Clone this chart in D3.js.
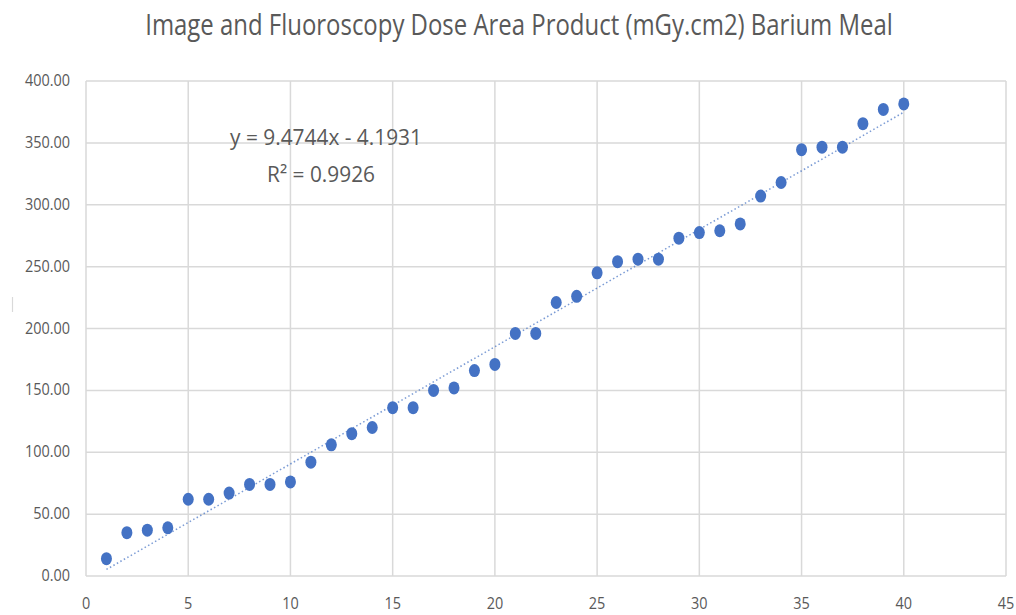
<!DOCTYPE html>
<html>
<head>
<meta charset="utf-8">
<script src="https://cdn.jsdelivr.net/npm/d3@7"></script>
<style>
  body { margin: 0; background: #fff; }
  text { font-family: "Open Sans", "Liberation Sans", sans-serif; fill: #595959; }
</style>
</head>
<body>
<div id="chart"></div>
<script>
var width = 1016,
    height = 615;

var xs = d3.range(1, 41);
var dose = [14, 35, 37, 39, 62, 62, 67, 74, 74, 76,
            92, 106, 115, 120, 136, 136, 150, 152, 166, 171,
            196, 196, 221, 226, 245, 254, 256, 256, 273, 277.5,
            279, 284.5, 307, 318, 344.5, 346.5, 346.5, 365.5, 377, 381.5];
var xTicks = d3.range(0, 46, 5);
var yTicks = d3.range(0, 401, 50);
var slope = 9.4744, intercept = -4.1931;
var eqText = "y = 9.4744x - 4.1931";
var r2Text = "R² = 0.9926";
var title = "Image and Fluoroscopy Dose Area Product (mGy.cm2) Barium Meal";

var margin = {left: 86, right: 10, top: 81, bottom: 39};

var svg = d3.select("#chart").append("svg")
    .attr("width", width)
    .attr("height", height);

var x = d3.scaleLinear().domain([0, 45]).range([margin.left, width - margin.right]);
var y = d3.scaleLinear().domain([0, 400]).range([height - margin.bottom, margin.top]);

// squeeze a text horizontally to a given width, around its anchor point
function fitText(sel, cx, cy, w) {
  var natural = sel.node().getComputedTextLength();
  sel.attr("transform", "translate(" + cx + "," + cy + ") scale(" + (w / natural) + ",1)");
}

// gridlines
svg.selectAll("line.hgrid").data(yTicks)
  .enter().append("line")
    .attr("x1", x(0)).attr("x2", x(45))
    .attr("y1", function(d) { return y(d); })
    .attr("y2", function(d) { return y(d); })
    .attr("stroke", "#d9d9d9").attr("stroke-width", 1.5);

svg.selectAll("line.vgrid").data(xTicks)
  .enter().append("line")
    .attr("y1", y(0)).attr("y2", y(400))
    .attr("x1", function(d) { return x(d); })
    .attr("x2", function(d) { return x(d); })
    .attr("stroke", "#d9d9d9").attr("stroke-width", 1.5);

// little stray mark at left edge (axis title placeholder)
svg.append("line")
    .attr("x1", 12.5).attr("x2", 12.5)
    .attr("y1", 297).attr("y2", 312)
    .attr("stroke", "#d9d9d9").attr("stroke-width", 1.2);

// tick labels (narrow, tall look)
svg.selectAll("text.ylab").data(yTicks)
  .enter().append("text")
    .attr("transform", function(d) { return "translate(" + (x(0) - 16) + "," + (y(d) + 5) + ") scale(0.85,1)"; })
    .attr("text-anchor", "end")
    .style("font-size", "17px")
    .text(function(d) { return d3.format(".2f")(d); });

svg.selectAll("text.xlab").data(xTicks)
  .enter().append("text")
    .attr("transform", function(d) { return "translate(" + x(d) + "," + (y(0) + 33) + ") scale(0.85,1)"; })
    .attr("text-anchor", "middle")
    .style("font-size", "17px")
    .text(function(d) { return d; });

// trendline
svg.append("line")
    .attr("x1", x(1)).attr("y1", y(slope * 1 + intercept))
    .attr("x2", x(40)).attr("y2", y(slope * 40 + intercept))
    .attr("stroke", "#4472c4")
    .attr("stroke-width", 1.5)
    .attr("stroke-dasharray", "1.5,2.5")
    .attr("opacity", 0.7);

// points
svg.selectAll("ellipse").data(xs)
  .enter().append("ellipse")
    .attr("cx", function(d) { return x(d); })
    .attr("cy", function(d, i) { return y(dose[i]); })
    .attr("rx", 5.5).attr("ry", 6.5)
    .attr("fill", "#4472c4");

// title
var t = svg.append("text")
    .attr("text-anchor", "middle")
    .style("font-size", "29px")
    .text(title);
fitText(t, 519, 35, 748);

// equation
var eq = svg.append("text")
    .attr("text-anchor", "middle")
    .style("font-size", "22px")
    .text(eqText);
fitText(eq, 326, 145, 192);

var r2 = svg.append("text")
    .attr("text-anchor", "middle")
    .style("font-size", "22px")
    .text(r2Text);
fitText(r2, 321, 182, 108);
</script>
</body>
</html>
